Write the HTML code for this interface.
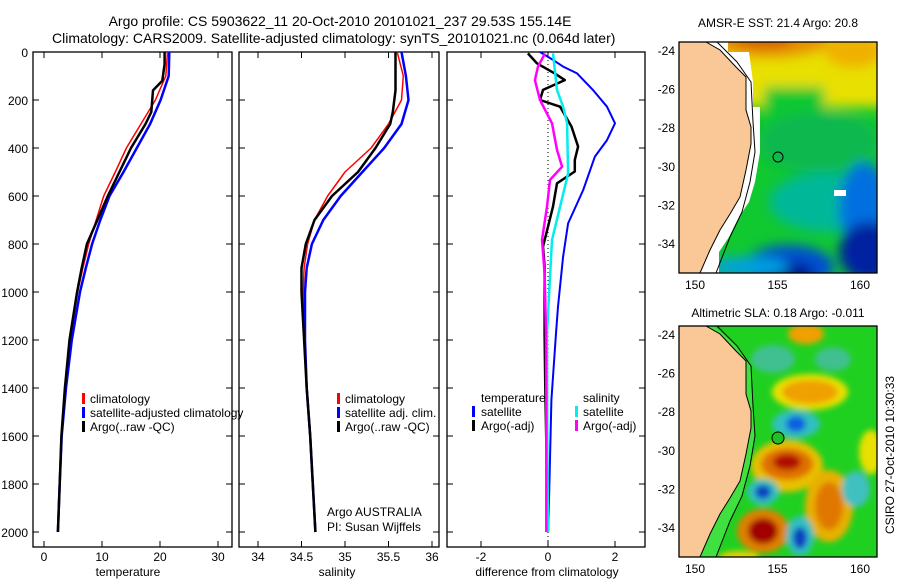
<!DOCTYPE html>
<html><head><meta charset="utf-8"><style>
body{margin:0;background:#fff;}
svg{display:block;font-family:"Liberation Sans",sans-serif;}
</style></head><body>
<svg id="chart" width="900" height="580" viewBox="0 0 900 580">
<defs>
<filter id="bl" x="-50%" y="-50%" width="200%" height="200%"><feGaussianBlur stdDeviation="6"/></filter>
<filter id="bl2" x="-50%" y="-50%" width="200%" height="200%"><feGaussianBlur stdDeviation="3"/></filter>
<clipPath id="cm1"><rect x="0" y="0" width="198" height="231"/></clipPath>
<clipPath id="cm2"><rect x="0" y="0" width="198" height="231"/></clipPath>
</defs>
<text x="340" y="26" font-size="14" text-anchor="middle">Argo profile: CS 5903622_11 20-Oct-2010 20101021_237 29.53S 155.14E</text>
<text x="52" y="43" font-size="14">Climatology: CARS2009. Satellite-adjusted climatology: synTS_20101021.nc (0.064d later)</text>
<g id="plots"></g>

<g transform="translate(679,42)">
 <g clip-path="url(#cm1)">
  <rect width="198" height="231" fill="#10c830"/>
  <g filter="url(#bl)">
   <rect x="40" y="-20" width="180" height="85" fill="#e8e000"/>
   <rect x="85" y="45" width="60" height="40" fill="#10c830"/>
   <ellipse cx="90" cy="0" rx="60" ry="16" fill="#e89000"/>
   <ellipse cx="85" cy="-2" rx="30" ry="8" fill="#d06000"/>
   <ellipse cx="175" cy="8" rx="30" ry="18" fill="#f0b000"/>
   <ellipse cx="140" cy="100" rx="60" ry="30" fill="#10b850"/>
   <ellipse cx="150" cy="160" rx="60" ry="30" fill="#00b898"/>
   <ellipse cx="185" cy="165" rx="25" ry="45" fill="#0070e0"/>
   <ellipse cx="190" cy="210" rx="30" ry="30" fill="#0020a0"/>
   <ellipse cx="110" cy="225" rx="45" ry="22" fill="#0050d0"/>
   <ellipse cx="110" cy="232" rx="25" ry="12" fill="#001890"/>
   <ellipse cx="70" cy="225" rx="40" ry="10" fill="#00a0e0"/>
  </g>
  <polygon points="0,0 49,0 49,10 70,10 74,40 74,65 81,65 81,110 76,140 70,160 60,175 50,195 40,210 40,231 0,231" fill="#fff"/>
  <polygon points="27,0 41,8 57,25 67,35 67,68 72,85 72,102 67,128 61,155 51,172 41,188 31,208 21,231 0,231 0,0" fill="#fac896" stroke="#000" stroke-width="1"/>
  <polyline points="38,0 58,20 72,40 74,80 76,110 71,140 63,170 51,195 37,231" fill="none" stroke="#000" stroke-width="1"/>
  <rect x="155" y="148" width="12" height="6" fill="#fff"/>
  <circle cx="99" cy="115" r="5" fill="none" stroke="#000"/>
 </g>
 <rect width="198" height="231" fill="none" stroke="#000" stroke-width="1.3"/>
</g>
<text x="778" y="27" font-size="12" text-anchor="middle">AMSR-E SST: 21.4  Argo: 20.8</text>

<g transform="translate(679,326)">
 <g clip-path="url(#cm2)">
  <rect width="198" height="231" fill="#20d020"/>
  <g filter="url(#bl2)">
   <ellipse cx="127" cy="8" rx="18" ry="10" fill="#f0a000"/>
   <ellipse cx="94" cy="33" rx="22" ry="14" fill="#40c090"/>
   <ellipse cx="154" cy="33" rx="18" ry="12" fill="#40c090"/>
   <ellipse cx="131" cy="66" rx="38" ry="18" fill="#e8e000"/>
   <ellipse cx="131" cy="66" rx="28" ry="12" fill="#f0a000"/>
   <ellipse cx="117" cy="98" rx="24" ry="14" fill="#30c0c0"/>
   <ellipse cx="117" cy="98" rx="10" ry="8" fill="#1060e0"/>
   <ellipse cx="108" cy="140" rx="36" ry="26" fill="#e8c000"/>
   <ellipse cx="108" cy="138" rx="26" ry="16" fill="#e07000"/>
   <ellipse cx="108" cy="136" rx="14" ry="8" fill="#b01000"/>
   <ellipse cx="150" cy="180" rx="24" ry="36" fill="#e8b000"/>
   <ellipse cx="150" cy="180" rx="14" ry="24" fill="#e07800"/>
   <ellipse cx="84" cy="166" rx="16" ry="13" fill="#30c0c0"/>
   <ellipse cx="84" cy="166" rx="8" ry="7" fill="#1040c0"/>
   <ellipse cx="84" cy="205" rx="26" ry="22" fill="#e08000"/>
   <ellipse cx="84" cy="205" rx="15" ry="13" fill="#a00000"/>
   <ellipse cx="121" cy="210" rx="14" ry="20" fill="#30c0c0"/>
   <ellipse cx="121" cy="212" rx="7" ry="11" fill="#1040c0"/>
   <ellipse cx="177" cy="163" rx="14" ry="18" fill="#40c0c0"/>
   <ellipse cx="192" cy="126" rx="12" ry="22" fill="#e8e000"/>
   <ellipse cx="60" cy="231" rx="20" ry="6" fill="#e8d000"/>
  </g>
  <polygon points="0,0 35,0 58,20 72,40 74,80 76,110 71,140 63,170 51,195 37,231 0,231" fill="#40e040"/>
  <polygon points="27,0 41,8 57,25 67,35 67,68 72,85 72,102 67,128 61,155 51,172 41,188 31,208 21,231 0,231 0,0" fill="#fac896" stroke="#000" stroke-width="1"/>
  <polyline points="38,0 58,20 72,40 74,80 76,110 71,140 63,170 51,195 37,231" fill="none" stroke="#000" stroke-width="1"/>
  <circle cx="99" cy="112" r="6" fill="#20c020" stroke="#000"/>
 </g>
 <rect width="198" height="231" fill="none" stroke="#000" stroke-width="1.3"/>
</g>
<text x="778" y="317" font-size="12" text-anchor="middle">Altimetric SLA: 0.18  Argo: -0.011</text>
<text transform="translate(894,455) rotate(-90)" font-size="12" text-anchor="middle">CSIRO 27-Oct-2010 10:30:33</text>
</svg>
<script>
// ---- data ----
const depthTicks=[0,200,400,600,800,1000,1200,1400,1600,1800,2000];
const tempTicks=[0,10,20,30];
const salTicks=[34,34.5,35,35.5,36];
const diffTicks=[-2,0,2];
const tDepth=[0,100,200,300,400,500,600,700,800,900,1000,1200,1400,1600,1800,2000];
const tempClim=[21.3,21.0,19.2,16.7,14.2,12.3,10.3,9.0,7.7,6.7,5.8,4.5,3.7,3.0,2.7,2.4];
const tempSat=[21.6,21.5,20.1,18.3,16.0,13.7,11.3,9.7,8.3,7.2,6.2,4.8,3.8,3.05,2.7,2.4];
const aDepth=[0,50,120,160,250,300,400,500,600,700,800,900,1000,1200,1400,1600,1800,2000];
const tempArgo=[20.8,20.8,20.4,18.8,18.5,17.5,15.0,13.0,11.0,9.2,7.4,6.5,5.7,4.4,3.6,3.0,2.7,2.4];
const salClim=[35.6,35.67,35.65,35.5,35.3,35.0,34.8,34.65,34.57,34.53,34.52,34.53,34.56,34.6,34.63,34.66];
const salSat=[35.65,35.7,35.73,35.65,35.45,35.2,34.95,34.75,34.62,34.56,34.54,34.54,34.56,34.6,34.63,34.66];
const salArgo=[35.58,35.58,35.58,35.58,35.55,35.52,35.35,35.15,34.85,34.65,34.55,34.5,34.5,34.53,34.56,34.6,34.63,34.66];
const dDepth=[0,33,61,89,158,228,297,367,436,575,714,853,1061,1172,1450,1870,2000];
const diffTempSat=[-0.24,0.15,0.45,0.87,1.34,1.76,2.0,1.76,1.4,1.05,0.6,0.45,0.3,0.24,0.1,0.03,0.0];
const bDepth=[6,47,89,117,158,200,228,311,394,450,498,547,644,728,811,894,1172,1400,2000];
const diffTempArgo=[-0.6,-0.33,0.2,0.5,-0.15,-0.24,0.36,0.7,0.9,0.8,0.8,0.27,0.15,0.0,-0.15,-0.1,-0.1,-0.08,0.0];
const cDepth=[6,158,228,297,506,644,783,1172,1600,2000];
const diffSalSat=[0.15,0.27,0.45,0.57,0.6,0.36,0.12,-0.03,-0.02,0.0];
const mDepth=[6,61,117,200,297,408,478,533,644,783,922,1172,1500,2000];
const diffSalArgo=[-0.09,-0.3,-0.39,-0.24,0.12,0.27,0.42,0.06,-0.03,-0.18,-0.1,-0.06,-0.05,-0.05];

// ---- axes ----
const Y0=52,Y1=547;
const yD=d=>52+0.24*d;
const xT=v=>44+5.8*v;
const xS=v=>258+87*(v-34);
const xDf=v=>548+33.5*v;
const NS='http://www.w3.org/2000/svg';
const root=document.getElementById('plots');
function mk(tag,attrs,parent){const e=document.createElementNS(NS,tag);for(const k in attrs)e.setAttribute(k,attrs[k]);(parent||root).appendChild(e);return e;}
function panel(name,x0,x1,xf,ticks,xlabel,labX,showY){
  const g=mk('g',{});
  
  
  mk('rect',{x:x0,y:Y0,width:x1-x0,height:Y1-Y0,fill:'none',stroke:'#000','stroke-width':1.3},g);
  depthTicks.forEach(d=>{
    mk('line',{x1:x0,x2:x0+6,y1:yD(d),y2:yD(d),stroke:'#000'},g);
    mk('line',{x1:x1-6,x2:x1,y1:yD(d),y2:yD(d),stroke:'#000'},g);
    if(showY){const t=mk('text',{x:28,y:yD(d)+5,'font-size':12,'text-anchor':'end'},g);t.textContent=d;
      
      }
  });
  ticks.forEach(v=>{
    const x=xf(v);
    mk('line',{x1:x,x2:x,y1:Y0,y2:Y0+6,stroke:'#000'},g);
    mk('line',{x1:x,x2:x,y1:Y1-6,y2:Y1,stroke:'#000'},g);
    const t=mk('text',{x:x,y:561,'font-size':12,'text-anchor':'middle'},g);t.textContent=v;
    
    
  });
  const xl=mk('text',{x:labX,y:576,'font-size':12,'text-anchor':'middle'},g);xl.textContent=xlabel;
  
  
  return g;
}
function line(vals,depths,xf,color,w,name){
  const p=mk('polyline',{fill:'none',stroke:color,'stroke-width':w,'stroke-linejoin':'round',
    points:vals.map((v,i)=>xf(v).toFixed(1)+','+yD(depths[i]).toFixed(1)).join(' ')});
  
  
}
function txt(x,y,s,name){const t=mk('text',{x:x,y:y,'font-size':12});t.textContent=s;
  
  }
function mark(x,y,c){mk('rect',{x:x,y:y-10,width:3,height:11,fill:c});}

panel('temperature-panel',33,232,xT,tempTicks,'temperature',128,true);
panel('salinity-panel',239,439,xS,salTicks,'salinity',337,false);
panel('difference-panel',447,645,xDf,diffTicks,'difference from climatology',547,false);
mk('line',{x1:xDf(0),x2:xDf(0),y1:Y0,y2:Y1,stroke:'#000','stroke-dasharray':'1,3'});

line(tempClim,tDepth,xT,'#f00',1.5,'temp-climatology-line');
line(tempSat,tDepth,xT,'#00f',2.5,'temp-satellite-line');
line(tempArgo,aDepth,xT,'#000',2.5,'temp-argo-line');
line(salClim,tDepth,xS,'#f00',1.5,'sal-climatology-line');
line(salSat,tDepth,xS,'#00f',2.5,'sal-satellite-line');
line(salArgo,aDepth,xS,'#000',2.5,'sal-argo-line');
line(diffTempSat,dDepth,xDf,'#00f',2,'diff-temp-satellite-line');
line(diffTempArgo,bDepth,xDf,'#000',2.5,'diff-temp-argo-line');
line(diffSalSat,cDepth,xDf,'#0ee',2.5,'diff-sal-satellite-line');
line(diffSalArgo,mDepth,xDf,'#f0f',2.5,'diff-sal-argo-line');

// legends
mark(82,403,'#f00');txt(90,403,'climatology','legend-entry-climatology');
mark(82,417,'#00f');txt(90,417,'satellite-adjusted climatology','legend-entry-satellite');
mark(82,431,'#000');txt(90,431,'Argo(..raw -QC)','legend-entry-argo');
mark(337,403,'#f00');txt(345,403,'climatology','legend-entry-climatology-sal');
mark(337,417,'#00f');txt(345,417,'satellite adj. clim.','legend-entry-satellite-sal');
mark(337,431,'#000');txt(345,431,'Argo(..raw -QC)','legend-entry-argo-sal');
txt(327,516,'Argo AUSTRALIA','argo-australia-note');
txt(327,531,'PI: Susan Wijffels','pi-note');
txt(481,402,'temperature','legend-heading-temperature');
txt(583,402,'salinity','legend-heading-salinity');
mark(472,416,'#00f');txt(481,416,'satellite','legend-entry-temp-satellite');
mark(472,430,'#000');txt(481,430,'Argo(-adj)','legend-entry-temp-argo');
mark(575,416,'#0ee');txt(583,416,'satellite','legend-entry-sal-satellite');
mark(575,430,'#f0f');txt(583,430,'Argo(-adj)','legend-entry-sal-argo');

// map ticks
function mapAxes(top,latTop){
  const lonX=[150,155,160], latV=[-24,-26,-28,-30,-32,-34];
  lonX.forEach(l=>{const x=695+16.5*(l-150);
    mk('line',{x1:x,x2:x,y1:top,y2:top+5,stroke:'#000'});
    mk('line',{x1:x,x2:x,y1:top+231-5,y2:top+231,stroke:'#000'});
    const t=mk('text',{x:x,y:top+247,'font-size':12,'text-anchor':'middle'});t.textContent=l;
    
    });
  latV.forEach(l=>{const y=latTop+19.3*(-24-l);
    mk('line',{x1:679,x2:684,y1:y,y2:y,stroke:'#000'});
    mk('line',{x1:872,x2:877,y1:y,y2:y,stroke:'#000'});
    const t=mk('text',{x:675,y:y+5,'font-size':12,'text-anchor':'end'});t.textContent=l;
    
    });
}
mapAxes(42,50);
mapAxes(326,334);
</script>
</body></html>
